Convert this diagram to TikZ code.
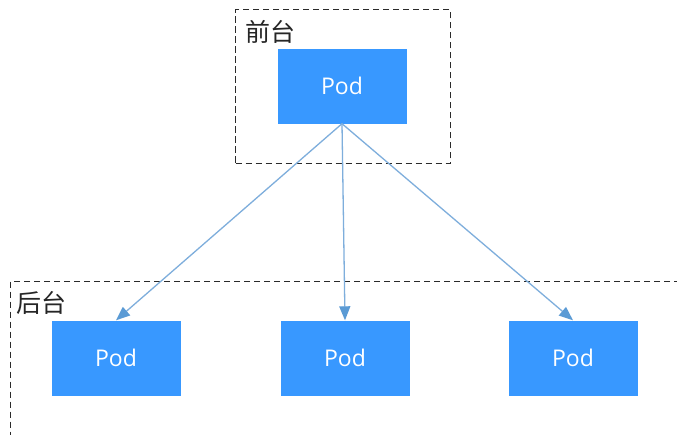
\documentclass[tikz,border=0pt]{standalone}
\usepackage{fontspec}
\setmainfont{Open Sans}
\newfontfamily\cjk{Noto Sans CJK SC}
\usetikzlibrary{arrows.meta}
\definecolor{podblue}{HTML}{3898FF}
\definecolor{linkblue}{HTML}{7EAEDC}
\definecolor{headblue}{HTML}{5B9BD5}
\definecolor{dashgray}{HTML}{2A2A2A}
\tikzset{
  pod/.style={fill=podblue, draw=none, minimum width=129pt, minimum height=75pt, inner sep=0pt, text=white, font=\fontsize{23}{27}\selectfont},
  zone/.style={draw=dashgray, line width=1.4pt, dash pattern=on 6.5pt off 3.5pt},
  zlabel/.style={anchor=west, inner sep=0pt, font=\cjk\fontsize{25}{29}\selectfont, text=black!85},
  link/.style={draw=linkblue, line width=1.3pt, -{Triangle[length=14pt,width=11pt,color=headblue]}}
}
\begin{document}
\begin{tikzpicture}[x=1pt,y=-1pt]
\useasboundingbox (0,0) rectangle (677,434);
\clip (0,0) rectangle (677,434);
\fill[white] (0,0) rectangle (677,434);
% zones
\node[zone, minimum width=215pt, minimum height=153.5pt, inner sep=0pt] (front) at (343,86.5) {};
\node[zone, minimum width=700pt, minimum height=200pt, inner sep=0pt, anchor=north west] (back) at (9.5,281) {};
\node[zlabel] (flabel) at (245,32) {前台};
\node[zlabel] (blabel) at (16,303) {后台};
% pods
\node[pod] (top) at (342,86) {Pod};
\node[pod] (b1) at (116,358) {Pod};
\node[pod] (b2) at (345,358) {Pod};
\node[pod] (b3) at (573,358) {Pod};
% links
\draw[link] (top.south) -- (b1.north);
\draw[link] (top.south) -- (b2.north);
\draw[link] (top.south) -- (b3.north);
\end{tikzpicture}
\end{document}
